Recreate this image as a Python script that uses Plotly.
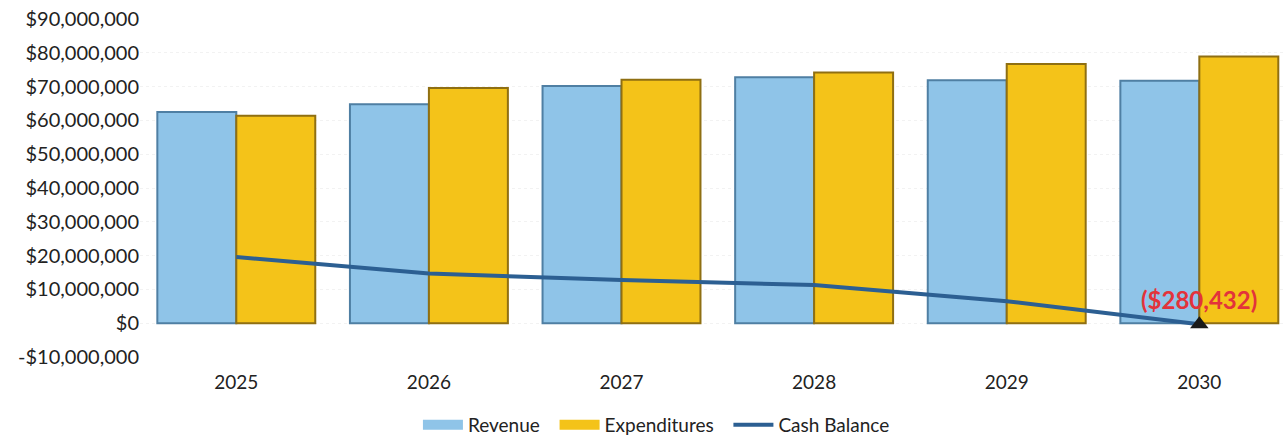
import plotly.graph_objects as go

years = ["2025", "2026", "2027", "2028", "2029", "2030"]
revenue = [62500000, 64800000, 70200000, 72800000, 71900000, 71700000]
expenditures = [61400000, 69600000, 72000000, 74200000, 76700000, 78900000]
cash_balance = [19600000, 14700000, 12800000, 11300000, 6500000, -280432]
final_label = "($280,432)"

tick_vals = [-10000000 + 10000000 * i for i in range(11)]
tick_text = ["-$10,000,000", "$0"] + ["${:,}".format(v) for v in tick_vals[2:]]

font_family = "Lato, 'Open Sans', sans-serif"
rev_fill, rev_edge = "#8fc4e8", "#4f7fa3"
exp_fill, exp_edge = "#f4c319", "#8f6f12"
cash_color = "#2c5f92"

fig = go.Figure()
fig.add_trace(go.Bar(
    name="Revenue", x=years, y=revenue, showlegend=False, legendgroup="rev",
    marker=dict(color=rev_fill, line=dict(color=rev_edge, width=2)),
))
fig.add_trace(go.Bar(
    name="Expenditures", x=years, y=expenditures, showlegend=False, legendgroup="exp",
    marker=dict(color=exp_fill, line=dict(color=exp_edge, width=2)),
))
fig.add_trace(go.Scatter(
    name="Cash Balance", x=years, y=cash_balance, mode="lines", showlegend=False,
    legendgroup="cash", line=dict(color=cash_color, width=4),
))
fig.add_trace(go.Scatter(
    x=[years[-1]], y=[cash_balance[-1]], mode="markers",
    marker=dict(symbol="triangle-up", size=16, color="#1a1a1a"),
    showlegend=False, hoverinfo="skip",
))

# legend entries drawn as wide swatches
for name, color, width, group in [("Revenue", rev_fill, 10, "rev"),
                                  ("Expenditures", exp_fill, 10, "exp"),
                                  ("Cash Balance", cash_color, 4, "cash")]:
    fig.add_trace(go.Scatter(
        name=name + "  ", x=[None], y=[None], mode="lines", legendgroup=group,
        line=dict(color=color, width=width), showlegend=True,
    ))

fig.add_annotation(
    x=len(years) - 1, y=cash_balance[-1], text="<b>" + final_label + "</b>",
    showarrow=False, yshift=25,
    font=dict(color="#e3333b", size=24, family=font_family),
)

fig.update_layout(
    width=1286, height=444,
    margin=dict(l=140, r=0, t=19, b=87, autoexpand=False),
    paper_bgcolor="white", plot_bgcolor="white",
    barmode="group", bargap=0.18, bargroupgap=0.0,
    font=dict(family=font_family, size=19, color="#222222"),
    showlegend=True,
    legend=dict(orientation="h", x=0.455, xanchor="center", y=-0.012, yanchor="bottom",
                yref="container", font=dict(size=19), itemwidth=40,
                traceorder="normal", tracegroupgap=0),
    xaxis=dict(range=[-0.5, 5.45], showgrid=False, showline=False, ticks="",
               tickfont=dict(size=19), ticklabelstandoff=12, automargin=False),
    yaxis=dict(range=[-10000000, 90000000], tickvals=tick_vals, ticktext=tick_text,
               showgrid=True, gridcolor="#f2f2f2", gridwidth=1, griddash="dot",
               zeroline=False, showline=False, ticks="", tickfont=dict(size=20),
               automargin=False),
)

fig.write_html("out.html")
